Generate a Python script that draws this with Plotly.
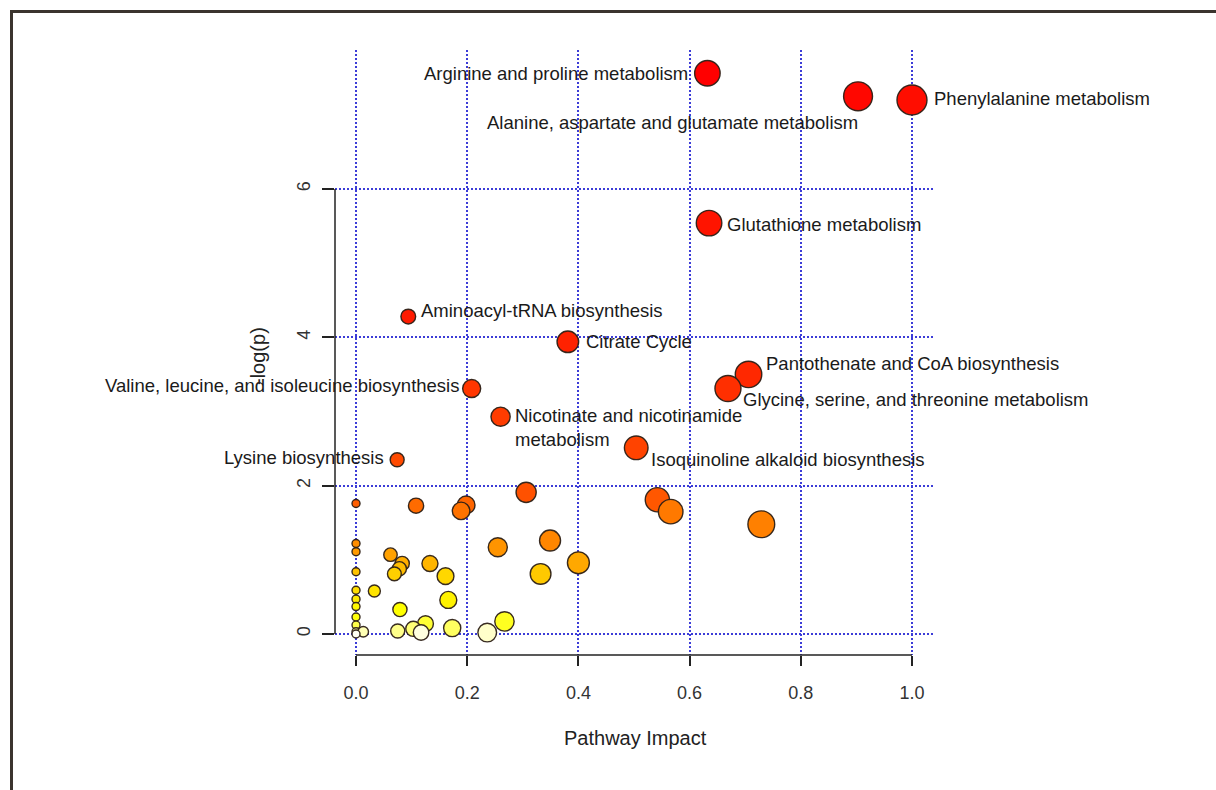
import math
import colorsys
import plotly.graph_objects as go

# ---------------- data ----------------
PATHWAY = [
    "Arginine and proline metabolism",
    "Alanine, aspartate and glutamate metabolism",
    "Phenylalanine metabolism",
    "Glutathione metabolism",
    "Aminoacyl-tRNA biosynthesis",
    "Citrate Cycle",
    "Pantothenate and CoA biosynthesis",
    "Glycine, serine, and threonine metabolism",
    "Valine, leucine, and isoleucine biosynthesis",
    "Nicotinate and nicotinamide<br>metabolism",
    "Isoquinoline alkaloid biosynthesis",
    "Lysine biosynthesis",
] + [""] * 39

IMPACT = [
    0.632, 0.903, 1.000, 0.635, 0.094, 0.381, 0.706, 0.669, 0.208, 0.260, 0.504, 0.074,
    0.306, 0.542, 0.000, 0.198, 0.108, 0.189, 0.566, 0.729, 0.349, 0.000,
    0.255, 0.000, 0.062, 0.400, 0.083, 0.133, 0.078, 0.000, 0.332, 0.069,
    0.161, 0.000, 0.033, 0.166, 0.000, 0.000, 0.079, 0.000, 0.267, 0.125,
    0.000, 0.173, 0.103, 0.075, 0.000, 0.013, 0.236, 0.117, 0.000,
]

NEG_LOG_P = [
    7.56, 7.25, 7.20, 5.54, 4.28, 3.94, 3.50, 3.31, 3.31, 2.93, 2.51, 2.35,
    1.91, 1.81, 1.76, 1.74, 1.73, 1.66, 1.65, 1.48, 1.26, 1.22,
    1.17, 1.11, 1.07, 0.96, 0.95, 0.95, 0.88, 0.84, 0.81, 0.81,
    0.78, 0.59, 0.58, 0.46, 0.47, 0.37, 0.33, 0.23, 0.17, 0.14,
    0.12, 0.08, 0.07, 0.04, 0.03, 0.03, 0.02, 0.02, 0.00,
]

X_TICKS = [0.0, 0.2, 0.4, 0.6, 0.8, 1.0]
X_TICK_TEXT = ["0.0", "0.2", "0.4", "0.6", "0.8", "1.0"]
Y_TICKS = [0, 2, 4, 6]
Y_TICK_TEXT = ["0", "2", "4", "6"]

X_TITLE = "Pathway Impact"
Y_TITLE = "-log(p)"

# label placement (style): anchor side, x shift px, y shift px
LABEL_STYLE = {
    "Arginine and proline metabolism": ("right", -17, 0),
    "Alanine, aspartate and glutamate metabolism": ("right", 2, -26),
    "Phenylalanine metabolism": ("left", 20, 1),
    "Glutathione metabolism": ("left", 16, -1),
    "Aminoacyl-tRNA biosynthesis": ("left", 11, 6),
    "Citrate Cycle": ("left", 16, 0),
    "Pantothenate and CoA biosynthesis": ("left", 15, 11),
    "Glycine, serine, and threonine metabolism": ("left", 13, -11),
    "Valine, leucine, and isoleucine biosynthesis": ("right", -11, 3),
    "Nicotinate and nicotinamide<br>metabolism": ("left", 12, -11),
    "Isoquinoline alkaloid biosynthesis": ("left", 13, -12),
    "Lysine biosynthesis": ("right", -11, 2),
}

# ---------------- layout geometry ----------------
W, H = 1216, 790
PL, PR, PT, PB = 335, 935, 50, 655   # plot area in px
X_RANGE = [-0.0378, 1.0414]
Y_RANGE = [-0.283, 7.874]


def px_to_paper_x(px):
    return (px - PL) / (PR - PL)


def px_to_paper_y(py):
    return (PB - py) / (PB - PT)


# ---------------- R heat.colors by rank ----------------
def heat_colors(n):
    j = n // 4
    i = n - j
    cols = []
    for k in range(i):
        h = (1 / 6) * k / (i - 1) if i > 1 else 0
        cols.append(colorsys.hsv_to_rgb(h, 1, 1))
    if j > 0:
        s0 = 1 - 1 / (2 * j)
        s1 = 1 / (2 * j)
        for k in range(j):
            s = s0 + (s1 - s0) * k / (j - 1) if j > 1 else s0
            cols.append(colorsys.hsv_to_rgb(1 / 6, s, 1))
    return ["rgb(%d,%d,%d)" % (round(r * 255), round(g * 255), round(b * 255)) for r, g, b in cols]


n = len(NEG_LOG_P)
palette = heat_colors(n)
order = sorted(range(n), key=lambda k: -NEG_LOG_P[k])
colors = [None] * n
for rank, k in enumerate(order):
    colors[k] = palette[rank]

sizes = [8 + 22 * math.sqrt(max(v, 0)) for v in IMPACT]

fig = go.Figure()
fig.add_trace(go.Scatter(
    x=IMPACT, y=NEG_LOG_P, mode="markers",
    marker=dict(size=sizes, color=colors, opacity=1,
                line=dict(color="rgba(45,32,22,0.95)", width=1.4)),
    hoverinfo="skip", showlegend=False,
))

label_font = dict(family="Liberation Sans, Arial, sans-serif", size=18.5, color="#1a1a1a")
annotations = []
for name, xv, yv in zip(PATHWAY, IMPACT, NEG_LOG_P):
    if not name:
        continue
    side, xs, ys = LABEL_STYLE[name]
    annotations.append(dict(
        x=xv, y=yv, xref="x", yref="y", text=name, showarrow=False,
        xanchor=side, yanchor="middle", align="left", xshift=xs, yshift=ys,
        font=label_font,
    ))

title_font = dict(family="Liberation Sans, Arial, sans-serif", size=20, color="#222222")
annotations.append(dict(
    x=0.5, y=px_to_paper_y(738), xref="paper", yref="paper", text=X_TITLE,
    showarrow=False, xanchor="center", yanchor="middle", font=title_font,
))
annotations.append(dict(
    x=px_to_paper_x(258), y=px_to_paper_y(356), xref="paper", yref="paper", text=Y_TITLE,
    showarrow=False, xanchor="center", yanchor="middle", textangle=-90, font=title_font,
))

axis_line = dict(color="#222222", width=1.5)
shapes = [
    # R-style detached axis lines spanning the tick range
    dict(type="line", xref="x", yref="paper", x0=X_TICKS[0], x1=X_TICKS[-1], y0=0, y1=0, line=axis_line),
    dict(type="line", xref="paper", yref="y", x0=0, x1=0, y0=Y_TICKS[0], y1=Y_TICKS[-1], line=axis_line),
    # screenshot frame (top and left edges)
    dict(type="line", xref="paper", yref="paper",
         x0=px_to_paper_x(11.5), x1=px_to_paper_x(11.5), y0=px_to_paper_y(10), y1=px_to_paper_y(795),
         line=dict(color="#3b342e", width=3)),
    dict(type="line", xref="paper", yref="paper",
         x0=px_to_paper_x(10), x1=px_to_paper_x(1220), y0=px_to_paper_y(11.5), y1=px_to_paper_y(11.5),
         line=dict(color="#3b342e", width=3)),
]

grid_color = "rgb(60,60,215)"
tick_font = dict(family="Liberation Sans, Arial, sans-serif", size=18, color="#333333")

fig.update_layout(
    width=W, height=H, autosize=False,
    margin=dict(l=PL, r=W - PR, t=PT, b=H - PB, pad=0),
    paper_bgcolor="white", plot_bgcolor="white",
    annotations=annotations, shapes=shapes,
    hovermode=False,
    xaxis=dict(
        range=X_RANGE, tickvals=X_TICKS, ticktext=X_TICK_TEXT,
        showline=False, zeroline=False, showgrid=True,
        gridcolor=grid_color, griddash="2px,2px", gridwidth=1.5,
        ticks="outside", ticklen=10, tickwidth=1.5, tickcolor="#222222",
        tickfont=tick_font, ticklabelstandoff=11,
    ),
    yaxis=dict(
        range=Y_RANGE, tickvals=Y_TICKS, ticktext=Y_TICK_TEXT,
        showline=False, zeroline=False, showgrid=True,
        gridcolor=grid_color, griddash="2px,2px", gridwidth=1.5,
        ticks="outside", ticklen=12, tickwidth=1.5, tickcolor="#222222",
        tickfont=tick_font, tickangle=-90, ticklabelstandoff=5,
    ),
)

fig.write_html("out.html")
